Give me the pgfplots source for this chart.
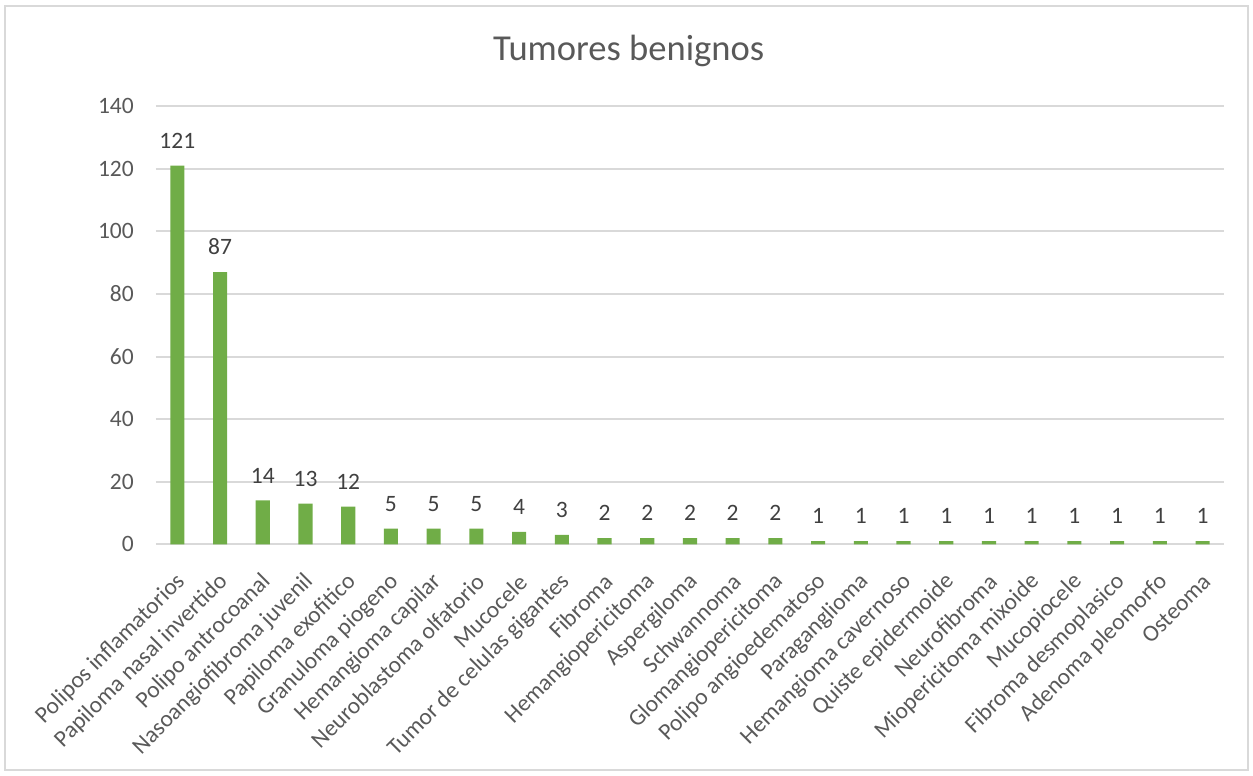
\documentclass[border=0pt]{standalone}
\usepackage{pgfplots}
\pgfplotsset{compat=1.18}
\usepackage{fontspec}
\setmainfont{Carlito}
\definecolor{barg}{HTML}{70AD47}
\definecolor{gridc}{HTML}{D9D9D9}
\definecolor{txt}{HTML}{595959}
\definecolor{lbl}{HTML}{404040}
\begin{document}
\begin{tikzpicture}
\path[use as bounding box] (0,0) rectangle (480pt,297pt);
\draw[gridc, line width=0.8pt] (1.9pt,1.9pt) rectangle (478.1pt,294.6pt);
\node[font=\fontsize{14}{16}\selectfont, text=txt] at (240.8pt,277.4pt) {Tumores benignos};
\begin{axis}[
  at={(59.76pt,88.49pt)}, anchor=south west,
  scale only axis, width=409.1pt, height=167.8pt,
  xmin=-0.5, xmax=24.5, ymin=0, ymax=140,
  ytick={0,20,...,140},
  xtick={0,...,24},
  xticklabels={Polipos inflamatorios, Papiloma nasal invertido, Polipo antrocoanal, Nasoangiofibroma juvenil, Papiloma exofitico, Granuloma piogeno, Hemangioma capilar, Neuroblastoma olfatorio, Mucocele, Tumor de celulas gigantes, Fibroma, Hemangiopericitoma, Aspergiloma, Schwannoma, Glomangiopericitoma, Polipo angioedematoso, Paraganglioma, Hemangioma cavernoso, Quiste epidermoide, Neurofibroma, Miopericitoma mixoide, Mucopiocele, Fibroma desmoplasico, Adenoma pleomorfo, Osteoma},
  xticklabel style={xshift=4pt, yshift=-10.5pt, rotate=45, anchor=east, font=\fontsize{9}{10}\selectfont, text=txt},
  yticklabel style={xshift=-5pt, font=\fontsize{9}{10}\selectfont, text=txt},
  /pgf/number format/assume math mode=true,
  axis lines*=left,
  y axis line style={draw=none},
  x axis line style={draw=gridc, line width=0.8pt},
  major tick length=0pt,
  ymajorgrids, grid style={gridc, line width=0.8pt},
  ybar, bar width=5.4pt,
  nodes near coords,
  every node near coord/.append style={anchor=base, yshift=6.7pt, font=\fontsize{9}{10}\selectfont, text=lbl},
  clip=false,
]
\addplot[fill=barg, draw=none, bar shift=0pt] coordinates {
(0,121) (1,87) (2,14) (3,13) (4,12) (5,5) (6,5) (7,5) (8,4) (9,3)
(10,2) (11,2) (12,2) (13,2) (14,2) (15,1) (16,1) (17,1) (18,1) (19,1)
(20,1) (21,1) (22,1) (23,1) (24,1)};
\end{axis}
\end{tikzpicture}
\end{document}
